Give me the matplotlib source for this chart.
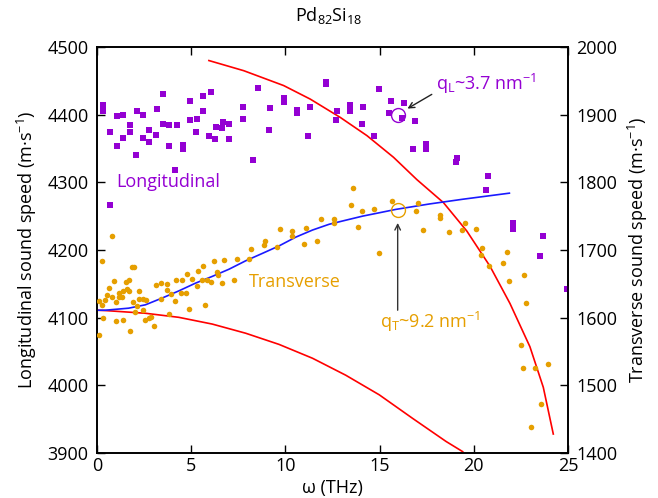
import matplotlib
import matplotlib.pyplot as plt

matplotlib.use("Agg")

plt.rcParams["font.family"] = ["Open Sans", "DejaVu Sans"]
plt.rcParams["mathtext.fontset"] = "custom"
plt.rcParams["mathtext.rm"] = "Open Sans"
plt.rcParams["mathtext.it"] = "Open Sans"

PURPLE = "#9400d3"
ORANGE = "#e69f00"

# longitudinal data (left axis, m/s)
long_w = [0.33, 0.33, 0.69, 1.04, 1.04, 1.40, 1.40, 1.75, 1.75, 2.07, 2.10, 2.42,
          2.46, 2.78, 2.78, 3.13, 3.17, 3.49, 3.52, 3.84, 3.84, 4.16, 4.23, 4.55,
          4.57, 4.94, 4.94, 5.25, 5.29, 5.64, 5.64, 6.03, 5.93, 6.28, 6.32, 6.67,
          6.63, 7.02, 6.99, 7.77, 7.77, 8.30, 8.55, 9.11, 9.18, 9.93, 9.93, 10.6,
          10.6, 11.2, 11.3, 12.15, 12.17, 12.69, 12.72, 0.69, 13.43, 13.43, 14.14,
          14.07, 14.70, 14.97, 15.6, 16.3, 15.51, 16.2, 16.9, 16.76, 17.46, 17.44,
          19.1, 19.08, 20.75, 20.65, 22.1, 22.1, 23.7, 23.5, 24.93]
long_v = [4414, 4406, 4374, 4398, 4354, 4399, 4366, 4385, 4374, 4341, 4406, 4365,
          4400, 4377, 4360, 4370, 4408, 4386, 4431, 4384, 4354, 4318, 4385, 4355,
          4350, 4420, 4392, 4374, 4393, 4427, 4406, 4434, 4368, 4364, 4382, 4389,
          4380, 4386, 4364, 4412, 4394, 4333, 4440, 4378, 4410, 4424, 4419, 4407,
          4403, 4368, 4411, 4449, 4445, 4392, 4405, 4266, 4414, 4406, 4412,
          4386, 4368, 4438, 4420, 4417, 4403, 4395, 4390, 4350, 4356, 4350,
          4336, 4330, 4309, 4288, 4240, 4231, 4220, 4191, 4143]

# transverse data (right axis, m/s)
trans_w = [0.81, 0.27, 0.11, 0.11, 0.33, 0.25, 0.42, 0.51, 0.65, 0.92, 0.78, 1.01,
           1.01, 1.18, 1.18, 1.31, 1.40, 1.40, 1.54, 1.58, 1.71, 1.71, 1.75, 1.84,
           1.98, 1.93, 2.02, 2.10, 2.21, 2.25, 2.42, 2.42, 2.55, 2.60, 2.78, 2.85,
           3.04, 3.13, 3.40, 3.40, 3.70, 3.70, 3.84, 3.93, 4.16, 4.19, 4.44, 4.51,
           4.72, 4.79, 4.90, 5.04, 5.29, 5.36, 5.56, 5.64, 5.73, 5.82, 6.07, 6.23,
           6.37, 6.40, 6.62, 6.76, 7.29, 7.43, 8.09, 8.19, 8.88, 8.93, 9.57, 9.71,
           10.37, 10.37, 10.97, 11.11, 11.68, 11.87, 12.56, 12.56, 13.6, 13.48,
           14.08, 13.87, 14.70, 15.64, 16.93, 17.02, 17.30, 18.2, 18.23, 18.68,
           19.39, 19.53, 20.12, 14.97, 20.45, 20.37, 20.82, 21.78, 21.57, 21.88,
           22.66, 22.75, 22.49, 22.59, 23.25, 23.92, 23.58, 23.04]
trans_v = [1721, 1684, 1624, 1574, 1599, 1619, 1626, 1634, 1644, 1654, 1630, 1623,
           1595, 1637, 1630, 1630, 1596, 1639, 1652, 1642, 1656, 1640, 1581, 1675,
           1675, 1623, 1608, 1617, 1640, 1628, 1628, 1612, 1596, 1626, 1599, 1601,
           1588, 1649, 1651, 1628, 1650, 1641, 1605, 1635, 1625, 1655, 1637, 1656,
           1637, 1665, 1613, 1657, 1647, 1669, 1656, 1676, 1618, 1655, 1652, 1684,
           1668, 1663, 1651, 1685, 1656, 1686, 1687, 1701, 1707, 1713, 1704, 1731,
           1728, 1721, 1709, 1733, 1713, 1746, 1746, 1740, 1791, 1767,
           1757, 1734, 1760, 1772, 1758, 1770, 1729, 1752, 1747, 1726,
           1729, 1740, 1731, 1696, 1703, 1692, 1676, 1697, 1681, 1654,
           1663, 1621, 1560, 1525, 1526, 1531, 1473, 1438]

# fitted / model curves
blue_w = [0.0, 0.44, 1.68, 2.57, 3.46, 4.34, 5.23, 6.12, 7.0, 7.89, 8.78, 9.66,
          10.55, 11.44, 12.32, 13.2, 14.09, 14.98, 15.86, 17.64, 19.41, 21.89]
blue_v = [1611, 1611, 1614, 1619, 1629, 1639.5, 1651, 1661, 1671.5, 1684, 1695, 1706,
          1719, 1729.5, 1738, 1744, 1750, 1755, 1760, 1768, 1775, 1784]

red_long_w = [5.94, 7.79, 9.91, 11.32, 12.91, 14.33, 15.74, 16.98, 18.39, 19.63,
              20.86, 21.92, 22.98, 23.69, 24.22]
red_long_v = [4480, 4465, 4443, 4423, 4396, 4369, 4337, 4304, 4270, 4228,
              4176, 4121, 4057, 3997, 3928]

red_trans_w = [0.0, 0.44, 2.57, 4.34, 6.12, 7.89, 9.66, 11.44, 13.2, 14.98, 16.76, 18.53, 19.41]
red_trans_v = [1611, 1610.5, 1606.5, 1600.5, 1590.5, 1577, 1560.5, 1540, 1515, 1486, 1451, 1417, 1402]

ql_point = (15.97, 4400)
qt_point = (15.96, 1759)

fig = plt.figure(figsize=(6.58, 4.98), dpi=100)
ax = fig.add_axes([0.1474, 0.0904, 0.7158, 0.8152])
ax2 = ax.twinx()

ax.plot(red_long_w, red_long_v, color="red", lw=1.2, zorder=2)
ax.plot(long_w, long_v, "s", color=PURPLE, ms=4.2, mew=0, zorder=3)
ax.plot(*ql_point, "o", ms=10, mfc="none", mec=PURPLE, mew=1, zorder=4)

ax2.plot(red_trans_w, red_trans_v, color="red", lw=1.2, zorder=2)
ax2.plot(blue_w, blue_v, color="#1a1aff", lw=1.2, zorder=2)
ax2.plot(trans_w, trans_v, "o", color=ORANGE, ms=4, mew=0, zorder=3)
ax2.plot(*qt_point, "o", ms=10, mfc="none", mec=ORANGE, mew=1, zorder=4)

ax.set_xlim(0, 25)
ax.set_ylim(3900, 4500)
ax2.set_ylim(1400, 2000)
ax.set_xticks([0, 5, 10, 15, 20, 25])
ax.set_yticks(range(3900, 4501, 100))
ax2.set_yticks(range(1400, 2001, 100))

ax.tick_params(direction="in", top=True, length=6, width=1, labelsize=13, pad=6)
ax.tick_params(axis="x", pad=3)
ax2.tick_params(direction="in", length=6, width=1, labelsize=13, pad=6)
for a in (ax, ax2):
    for s in a.spines.values():
        s.set_linewidth(1.2)

ax.set_xlabel("ω (THz)", fontsize=13, labelpad=2.5)
ax.set_ylabel("Longitudinal sound speed (m·s$^{-1}$)", fontsize=13, labelpad=6)
ax2.set_ylabel("Transverse sound speed (m·s$^{-1}$)", fontsize=13, rotation=90, labelpad=6)
fig.suptitle("Pd$_{82}$Si$_{18}$", fontsize=13, y=0.99)

ax.text(1.0, 4300, "Longitudinal", color=PURPLE, fontsize=13, va="center")
ax2.text(8.05, 1652, "Transverse", color=ORANGE, fontsize=13, va="center")

ax.annotate("", xy=(16.48, 4409), xytext=(17.77, 4430),
            arrowprops=dict(arrowstyle="->", color="#222222", lw=1, shrinkA=0, shrinkB=0))
ax.text(18.0, 4446, "q$_\\mathregular{L}$~3.7 nm$^{\\mathregular{-1}}$",
        color=PURPLE, fontsize=13, va="center")
ax2.annotate("", xy=(15.96, 1740), xytext=(15.96, 1611),
             arrowprops=dict(arrowstyle="->", color="#333333", lw=1, shrinkA=0, shrinkB=0))
ax2.text(15.03, 1594, "q$_\\mathregular{T}$~9.2 nm$^{\\mathregular{-1}}$",
         color=ORANGE, fontsize=13, va="center")

fig.savefig("out.png", dpi=100)
